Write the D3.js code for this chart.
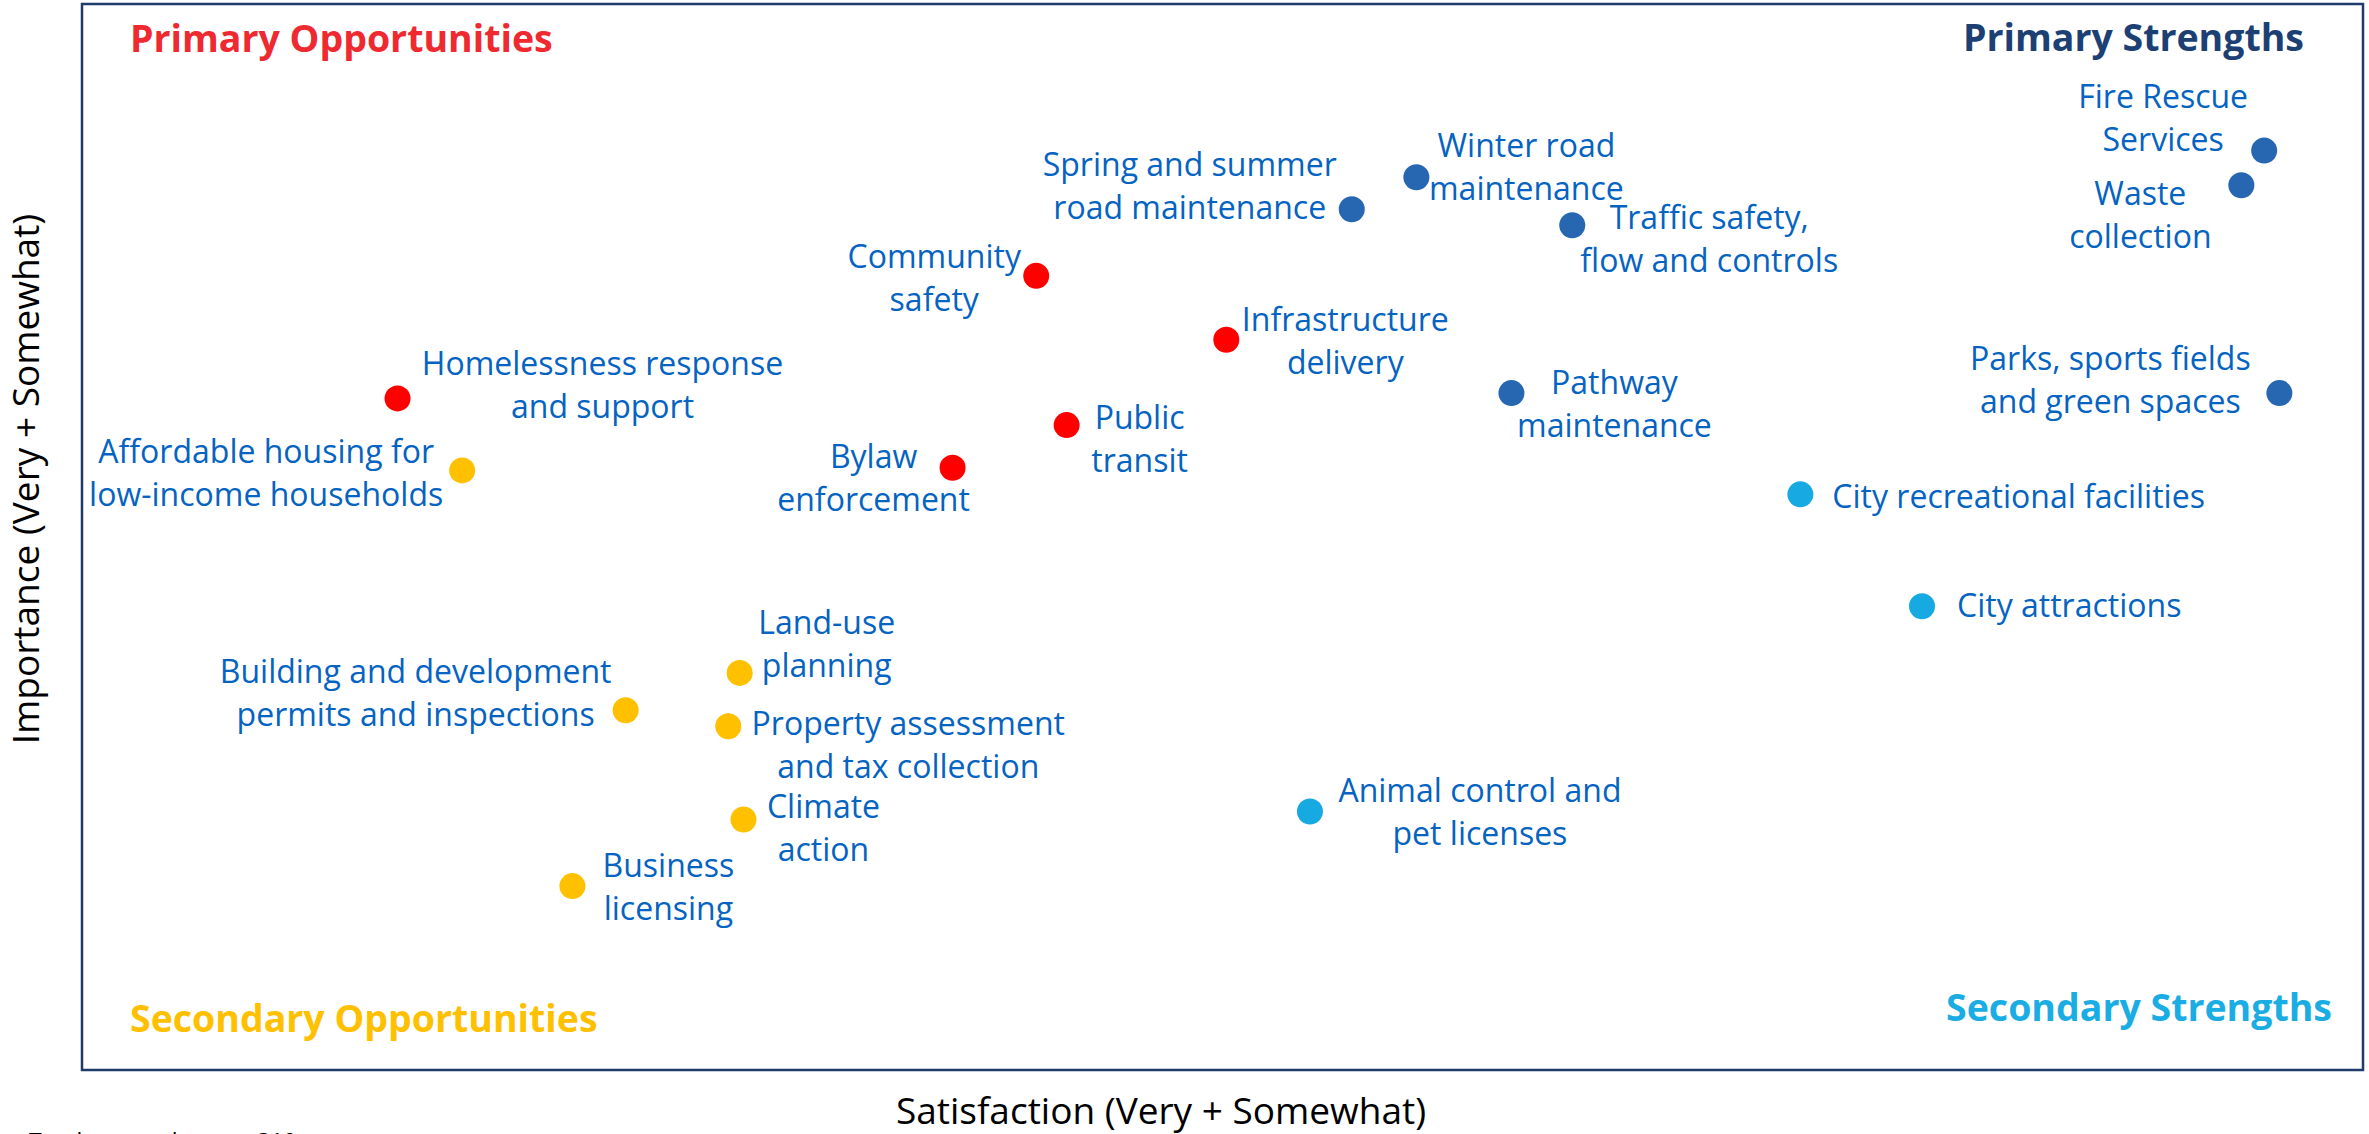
<!DOCTYPE html>
<html>
<head>
<meta charset="utf-8">
<script src="https://cdn.jsdelivr.net/npm/d3@7"></script>
<style>
  html, body { margin: 0; padding: 0; background: #fff; }
  svg { display: block; font-family: "Open Sans", "Noto Sans", sans-serif; }
</style>
</head>
<body>
<svg id="chart" width="2369" height="1134"></svg>
<script>
// Chart data (satisfaction / importance)
const services = [
  'Fire Rescue Services', 'Waste collection', 'Parks, sports fields and green spaces',
  'City recreational facilities', 'City attractions', 'Animal control and pet licenses',
  'Spring and summer road maintenance', 'Winter road maintenance', 'Traffic safety, flow and controls',
  'Pathway maintenance', 'Community safety', 'Infrastructure delivery',
  'Public transit', 'Bylaw enforcement', 'Homelessness response and support',
  'Affordable housing for low-income households', 'Land-use planning',
  'Building and development permits and inspections', 'Property assessment and tax collection',
  'Climate action', 'Business licensing'
];
const satisfaction = [97.4, 96.8, 97.8, 85.2, 88.4, 72.3, 73.4, 75.1, 79.2, 77.6, 65.1, 70.1, 65.9, 62.9, 48.3, 50.0, 57.3, 54.3, 57.0, 57.4, 52.9];
const importance   = [94.5, 93.2, 85.4, 81.6, 77.4, 69.7, 92.3, 93.5, 91.7, 85.4, 89.8, 87.4, 84.2, 82.6, 85.2, 82.5, 74.9, 73.5, 72.9, 69.4, 66.9];
const group = ['ps', 'ps', 'ps', 'ss', 'ss', 'ss', 'ps', 'ps', 'ps', 'ps', 'po', 'po', 'po', 'po', 'po', 'so', 'so', 'so', 'so', 'so', 'so'];

// wrapped label text
const labelLines = [
  ['Fire Rescue', 'Services'], ['Waste', 'collection'], ['Parks, sports fields', 'and green spaces'],
  ['City recreational facilities'], ['City attractions'], ['Animal control and', 'pet licenses'],
  ['Spring and summer', 'road maintenance'], ['Winter road', 'maintenance'], ['Traffic safety,', 'flow and controls'],
  ['Pathway', 'maintenance'], ['Community', 'safety'], ['Infrastructure', 'delivery'],
  ['Public', 'transit'], ['Bylaw', 'enforcement'], ['Homelessness response', 'and support'],
  ['Affordable housing for', 'low-income households'], ['Land-use', 'planning'],
  ['Building and development', 'permits and inspections'], ['Property assessment', 'and tax collection'],
  ['Climate', 'action'], ['Business', 'licensing']
];

const quadrantTitles = ['Primary Opportunities', 'Primary Strengths', 'Secondary Opportunities', 'Secondary Strengths'];
const xTitle = 'Satisfaction (Very + Somewhat)';
const yTitle = 'Importance (Very + Somewhat)';
const footnote = 'Total respondents n=310';

// Label placement: [dx, dy of first baseline, anchor]
const labelPlace = [
  [-101, -43, 'middle'], [-101, 20, 'middle'], [-169, -23, 'middle'],
  [32, 14, 'start'], [35, 11, 'start'], [170, -9, 'middle'],
  [-162, -33, 'middle'], [110, -20, 'middle'], [137, 4, 'middle'],
  [103, 1, 'middle'], [-102, -8, 'middle'], [119, -9, 'middle'],
  [73, 4, 'middle'], [-79, 0, 'middle'], [205, -23, 'middle'],
  [-196, -7, 'middle'], [87, -39, 'middle'],
  [-210, -27, 'middle'], [180, 9, 'middle'],
  [80, -1, 'middle'], [96, -9, 'middle']
];

const dotColor = { ps: '#2767B2', ss: '#17A9E1', po: '#FF0000', so: '#FFC000' };
const labelColor = '#0563C1';
const lineGap = 43;

const width = 2369, height = 1134;
const margin = { top: 4, right: 6, bottom: 64, left: 82 };

const svg = d3.select('#chart');

const x = d3.scaleLinear().domain([40, 100]).range([margin.left, width - margin.right]);
const y = d3.scaleLinear().domain([60, 100]).range([height - margin.bottom, margin.top]);

const points = services.map((name, i) => ({
  name: name,
  sat: satisfaction[i],
  imp: importance[i],
  group: group[i],
  lines: labelLines[i],
  place: labelPlace[i]
}));

// Frame
svg.append('rect')
  .attr('x', x.range()[0])
  .attr('y', y.range()[1])
  .attr('width', x.range()[1] - x.range()[0])
  .attr('height', y.range()[0] - y.range()[1])
  .attr('fill', 'none')
  .attr('stroke', '#1F3B6B')
  .attr('stroke-width', 2.5);

// Quadrant titles
const titleStyle = [
  { x: 130, y: 52, anchor: 'start', color: '#EE2A30' },
  { x: 2304, y: 51, anchor: 'end', color: '#1C3F74' },
  { x: 130, y: 1032, anchor: 'start', color: '#FFC000' },
  { x: 2332, y: 1021, anchor: 'end', color: '#1AADE4' }
];
svg.append('g').selectAll('text')
  .data(quadrantTitles)
  .join('text')
  .attr('x', (d, i) => titleStyle[i].x)
  .attr('y', (d, i) => titleStyle[i].y)
  .attr('text-anchor', (d, i) => titleStyle[i].anchor)
  .attr('fill', (d, i) => titleStyle[i].color)
  .style('font-size', '37.5px')
  .style('font-weight', 'bold')
  .text(d => d);

// Dots
svg.append('g').selectAll('circle')
  .data(points)
  .join('circle')
  .attr('cx', d => x(d.sat))
  .attr('cy', d => y(d.imp))
  .attr('r', 13)
  .attr('fill', d => dotColor[d.group]);

// Labels
const labels = svg.append('g').selectAll('text')
  .data(points)
  .join('text')
  .attr('fill', labelColor)
  .attr('text-anchor', d => d.place[2])
  .style('font-size', '32px');

labels.each(function(d) {
  const t = d3.select(this);
  const lx = x(d.sat) + d.place[0];
  d.lines.forEach((line, k) => {
    t.append('tspan')
      .attr('x', lx)
      .attr('y', y(d.imp) + d.place[1] + k * lineGap)
      .text(line);
  });
});

// Axis titles
svg.append('text')
  .attr('x', 1161)
  .attr('y', 1124)
  .attr('text-anchor', 'middle')
  .attr('fill', '#000')
  .style('font-size', '37px')
  .text(xTitle);

svg.append('text')
  .attr('transform', 'translate(39, 479) rotate(-90)')
  .attr('text-anchor', 'middle')
  .attr('fill', '#000')
  .style('font-size', '37px')
  .text(yTitle);

// Footnote, mostly cut off at the bottom edge
svg.append('text')
  .attr('x', 29)
  .attr('y', 1150)
  .attr('fill', '#000')
  .style('font-size', '23px')
  .text(footnote);
</script>
</body>
</html>
